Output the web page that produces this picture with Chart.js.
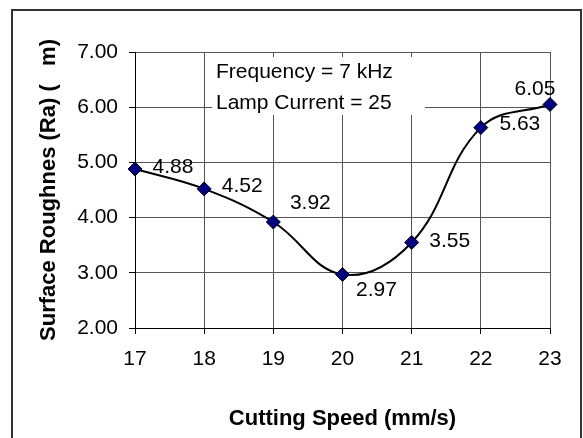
<!DOCTYPE html>
<html>
<head>
<meta charset="utf-8">
<script src="https://cdn.jsdelivr.net/npm/chart.js@4.4.1/dist/chart.umd.min.js"></script>
<style>
    html, body { margin: 0; padding: 0; background: #ffffff; overflow: hidden; }
    #wrap { position: relative; width: 583px; height: 438px; }
    #frame {
        position: absolute; left: 11px; top: 9px; width: 567px; height: 440px;
        border: 2px solid #333333; border-bottom: none;
    }
    canvas { position: absolute; left: 0; top: 0; }
</style>
</head>
<body>
<div id="wrap">
    <div id="frame"></div>
    <canvas id="roughnessChart" width="583" height="438"></canvas>
</div>
<script>
// chart data
const cuttingSpeeds = ['17', '18', '19', '20', '21', '22', '23'];
const roughnessValues = [4.88, 4.52, 3.92, 2.97, 3.55, 5.63, 6.05];
const yTicks = [2, 3, 4, 5, 6, 7];
const noteLines = ['Frequency = 7 kHz', 'Lamp Current = 25'];

// where each value label sits relative to its point
const labelOffsets = [
    [38, -2], [38, -3], [37, -19], [34, 16], [38, -1], [39, -3], [-15, -15]
];

const fontFamily = '"Liberation Sans", Arial, sans-serif';

const valueLabelPlugin = {
    id: 'valueLabels',
    afterDatasetsDraw(chart) {
        const ctx = chart.ctx;
        const meta = chart.getDatasetMeta(0);
        ctx.save();
        ctx.font = '21px ' + fontFamily;
        ctx.fillStyle = '#000000';
        ctx.textAlign = 'center';
        ctx.textBaseline = 'middle';
        meta.data.forEach(function (point, i) {
            ctx.fillText(roughnessValues[i].toFixed(2), point.x + labelOffsets[i][0], point.y + labelOffsets[i][1]);
        });
        ctx.restore();
    }
};

const noteBoxPlugin = {
    id: 'noteBox',
    beforeDatasetsDraw(chart) {
        const ctx = chart.ctx;
        const area = chart.chartArea;
        const left = area.left + 77;
        const top = area.top + 5;
        ctx.save();
        ctx.fillStyle = '#ffffff';
        ctx.fillRect(left, top, 213, 58);
        ctx.font = '21px ' + fontFamily;
        ctx.fillStyle = '#000000';
        ctx.textAlign = 'left';
        ctx.textBaseline = 'middle';
        ctx.fillText(noteLines[0], left + 4, top + 15);
        ctx.fillText(noteLines[1], left + 4, top + 46);
        ctx.restore();
    }
};

function GenerateRoughnessChart() {

    var chartControl = document.getElementById('roughnessChart');

    new Chart(chartControl, {
        type: 'line',
        data: {
            labels: cuttingSpeeds,
            datasets: [{
                data: roughnessValues,
                borderColor: '#000000',
                borderWidth: 2,
                tension: 0.4,
                fill: false,
                clip: false,
                pointStyle: 'rectRot',
                pointRadius: 7,
                pointHoverRadius: 7,
                pointBackgroundColor: '#000080',
                pointBorderColor: '#000000',
                pointBorderWidth: 1
            }]
        },
        options: {
            responsive: false,
            animation: false,
            layout: {
                padding: { top: 52, right: 33, bottom: 0, left: 0 }
            },
            plugins: {
                legend: { display: false },
                tooltip: { enabled: false }
            },
            scales: {
                x: {
                    offset: false,
                    afterFit: function (scale) { scale.height = 110; },
                    grid: {
                        color: '#555555',
                        lineWidth: 1,
                        tickLength: 6,
                        tickColor: '#000000'
                    },
                    border: { color: '#000000', width: 1 },
                    ticks: {
                        color: '#000000',
                        padding: 13,
                        maxRotation: 0,
                        font: { family: fontFamily, size: 21 }
                    },
                    title: {
                        display: true,
                        text: 'Cutting Speed (mm/s)',
                        color: '#000000',
                        padding: { top: 0, bottom: 6 },
                        font: { family: fontFamily, size: 22, weight: 'bold' }
                    }
                },
                y: {
                    min: 2,
                    max: 7,
                    afterFit: function (scale) { scale.width = 135; },
                    afterBuildTicks: function (scale) {
                        scale.ticks = yTicks.map(function (v) { return { value: v }; });
                    },
                    grid: {
                        color: '#555555',
                        lineWidth: 1,
                        tickLength: 6,
                        tickColor: '#000000'
                    },
                    border: { color: '#000000', width: 1 },
                    ticks: {
                        color: '#000000',
                        padding: 11,
                        font: { family: fontFamily, size: 21 },
                        callback: function (value) { return Number(value).toFixed(2); }
                    },
                    title: {
                        display: true,
                        text: 'Surface Roughnes (Ra) (   m)',
                        color: '#000000',
                        padding: { top: 36, bottom: 0 },
                        font: { family: fontFamily, size: 22, weight: 'bold' }
                    }
                }
            }
        },
        plugins: [noteBoxPlugin, valueLabelPlugin]
    });
}

GenerateRoughnessChart();
</script>
</body>
</html>
